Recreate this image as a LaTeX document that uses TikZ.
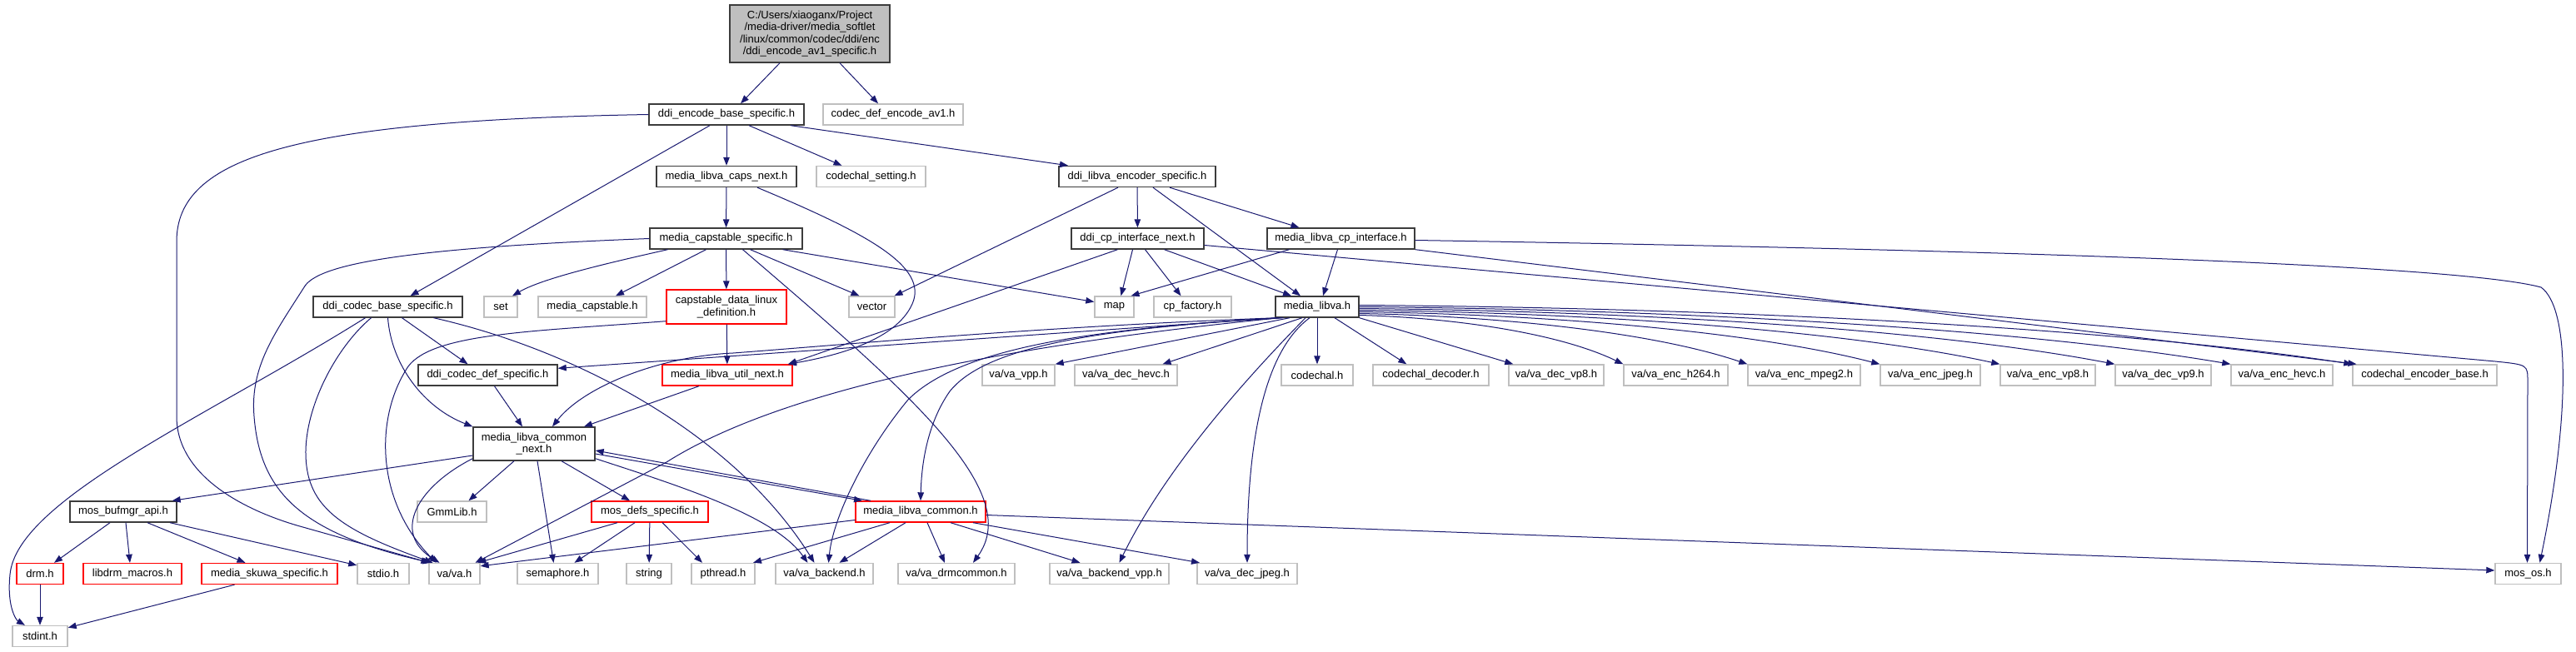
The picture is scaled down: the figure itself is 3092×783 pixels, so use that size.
\documentclass[tikz,border=0pt]{standalone}
\usepackage{fontspec}
\setmainfont{Liberation Sans}
\usetikzlibrary{arrows.meta}
\definecolor{edgeblue}{RGB}{25,25,112}
\definecolor{greyb}{RGB}{191,191,191}
\definecolor{docline}{RGB}{60,60,60}
\tikzset{
  nd/.style={rectangle, draw, line width=1.4pt, inner sep=0pt, minimum height=25pt,
    font=\fontsize{13}{14.5}\selectfont, align=center},
  doc/.style={nd, draw=docline},
  ext/.style={nd, draw=greyb},
  redn/.style={nd, draw=red},
  rootn/.style={nd, draw=docline, fill=greyb},
  e/.style={draw=edgeblue, line width=1pt, -{Triangle[length=10pt,width=7.5pt]}}
}
\begin{document}
\begin{tikzpicture}[x=1pt,y=-1pt]
\fill[white] (0,0) rectangle (3092,783);
\useasboundingbox (0,0) rectangle (3092,783);
% row 0
\node[rootn, minimum width=192pt, minimum height=69pt] (root) at (972,40.5) {C:/Users/xiaoganx/Project\\/media-driver/media\_softlet\\/linux/common/codec/ddi/enc\\/ddi\_encode\_av1\_specific.h};
% row 1
\node[doc, minimum width=186pt] (E) at (872,137.5) {ddi\_encode\_base\_specific.h};
\node[ext, minimum width=168pt] (cav1) at (1072,137.5) {codec\_def\_encode\_av1.h};
% row 2
\node[doc, minimum width=168pt] (CN) at (872,212) {media\_libva\_caps\_next.h};
\node[ext, minimum width=131pt] (csetting) at (1045.5,212) {codechal\_setting.h};
\node[doc, minimum width=188pt] (DLE) at (1365,212) {ddi\_libva\_encoder\_specific.h};
% row 3
\node[doc, minimum width=183pt] (MCS) at (871.5,286.5) {media\_capstable\_specific.h};
\node[doc, minimum width=159pt] (DCI) at (1365.5,286.5) {ddi\_cp\_interface\_next.h};
\node[doc, minimum width=177pt] (MLCI) at (1609.5,286.5) {media\_libva\_cp\_interface.h};
% row 4
\node[doc, minimum width=179pt] (DCB) at (465.5,368.5) {ddi\_codec\_base\_specific.h};
\node[ext, minimum width=40pt] (set) at (601,368.5) {set};
\node[ext, minimum width=130pt] (mcapstable) at (711,368.5) {media\_capstable.h};
\node[redn, minimum width=144pt, minimum height=41pt] (CDL) at (872,368.5) {capstable\_data\_linux\\\_definition.h};
\node[ext, minimum width=55pt] (vector) at (1046.5,368.5) {vector};
\node[ext, minimum width=47pt] (map) at (1337.5,368.5) {map};
\node[ext, minimum width=93pt] (cpfactory) at (1431.5,368.5) {cp\_factory.h};
\node[doc, minimum width=100pt] (ML) at (1581,368.5) {media\_libva.h};
% row 5
\node[doc, minimum width=167pt] (DCD) at (585.5,450.5) {ddi\_codec\_def\_specific.h};
\node[redn, minimum width=156pt] (UN) at (873,450.5) {media\_libva\_util\_next.h};
\node[ext, minimum width=87pt] (vavpp) at (1222.5,450.5) {va/va\_vpp.h};
\node[ext, minimum width=123pt] (decHevc) at (1351.5,450.5) {va/va\_dec\_hevc.h};
\node[ext, minimum width=86pt] (codechal) at (1581,450.5) {codechal.h};
\node[ext, minimum width=139pt] (cdecoder) at (1717.5,450.5) {codechal\_decoder.h};
\node[ext, minimum width=114pt] (decVp8) at (1868,450.5) {va/va\_dec\_vp8.h};
\node[ext, minimum width=125pt] (encH264) at (2011.5,450.5) {va/va\_enc\_h264.h};
\node[ext, minimum width=135pt] (encMpeg2) at (2165.5,450.5) {va/va\_enc\_mpeg2.h};
\node[ext, minimum width=120pt] (encJpeg) at (2317,450.5) {va/va\_enc\_jpeg.h};
\node[ext, minimum width=114pt] (encVp8) at (2458,450.5) {va/va\_enc\_vp8.h};
\node[ext, minimum width=115pt] (decVp9) at (2596.5,450.5) {va/va\_dec\_vp9.h};
\node[ext, minimum width=122pt] (encHevc) at (2739,450.5) {va/va\_enc\_hevc.h};
\node[ext, minimum width=173pt] (cencbase) at (2910.5,450.5) {codechal\_encoder\_base.h};
% row 6
\node[doc, minimum width=146pt, minimum height=40pt] (MLCN) at (641,533) {media\_libva\_common\\\_next.h};
% row 7
\node[doc, minimum width=128pt] (mosbuf) at (148,614.5) {mos\_bufmgr\_api.h};
\node[ext, minimum width=83pt] (gmm) at (542.5,614.5) {GmmLib.h};
\node[redn, minimum width=140pt] (MDS) at (780,614.5) {mos\_defs\_specific.h};
\node[redn, minimum width=156pt] (MLC) at (1105,614.5) {media\_libva\_common.h};
% row 8
\node[redn, minimum width=56pt] (drm) at (48,689) {drm.h};
\node[redn, minimum width=118pt] (libdrm) at (159,689) {libdrm\_macros.h};
\node[redn, minimum width=163pt] (skuwa) at (323.5,689) {media\_skuwa\_specific.h};
\node[ext, minimum width=62pt] (stdio) at (460,689) {stdio.h};
\node[ext, minimum width=61pt] (vah) at (545.5,689) {va/va.h};
\node[ext, minimum width=97pt] (semaphore) at (669.5,689) {semaphore.h};
\node[ext, minimum width=54pt] (string) at (779,689) {string};
\node[ext, minimum width=76pt] (pthread) at (868,689) {pthread.h};
\node[ext, minimum width=117pt] (vabackend) at (989.5,689) {va/va\_backend.h};
\node[ext, minimum width=140pt] (drmcommon) at (1148,689) {va/va\_drmcommon.h};
\node[ext, minimum width=143pt] (backendvpp) at (1331.5,689) {va/va\_backend\_vpp.h};
\node[ext, minimum width=120pt] (decjpeg) at (1497,689) {va/va\_dec\_jpeg.h};
\node[ext, minimum width=79pt] (mosos) at (3034.5,689) {mos\_os.h};
% row 9
\node[ext, minimum width=66pt] (stdint) at (48,764) {stdint.h};

% ---- edges ----
\draw[e] ([xshift=-36pt]root.south) -- ([xshift=17pt]E.north);
\draw[e] ([xshift=36pt]root.south) -- ([xshift=-18pt]cav1.north);
% E
\draw[e] ([xshift=-20pt]E.south) -- ([xshift=27pt]DCB.north);
\draw[e] (E) -- (CN);
\draw[e] ([xshift=27pt]E.south) -- ([xshift=-35pt]csetting.north);
\draw[e] ([xshift=77pt]E.south) -- ([xshift=-83pt]DLE.north);
\draw[e] (E.west) .. controls (350,145) and (212,190) .. (212,290) -- (212,500) .. controls (212,570) and (290,612) .. (360,632) -- ([xshift=-30pt]vah.north);
% CN
\draw[e] (CN) -- (MCS);
\draw[e] ([xshift=37pt]CN.south) .. controls (1040,280) and (1115,320) .. (1095,365) .. controls (1075,410) and (1000,428) .. ([xshift=73pt]UN.north);
% MCS
\draw[e] ([xshift=-70pt]MCS.south) .. controls (720,318) and (650,335) .. ([xshift=14pt]set.north);
\draw[e] ([xshift=-24pt]MCS.south) -- ([xshift=28pt]mcapstable.north);
\draw[e] (MCS) -- (CDL);
\draw[e] ([xshift=29pt]MCS.south) -- ([xshift=-15pt]vector.north);
\draw[e] ([xshift=68pt]MCS.south) -- ([yshift=6pt]map.west);
\draw[e] (MCS.west) .. controls (480,298) and (380,318) .. (365,345) .. controls (330,400) and (300,440) .. (305,500) .. controls (312,590) and (360,640) .. ([xshift=-28pt]vah.north);
\draw[e] ([xshift=20pt]MCS.south) .. controls (1090,470) and (1230,590) .. ([xshift=20pt]drmcommon.north);
% CDL
\draw[e] (CDL) -- (UN);
\draw[e] ([yshift=4pt]CDL.south west) .. controls (640,398) and (520,400) .. (490,440) .. controls (450,500) and (450,600) .. ([xshift=-22pt]vah.north);
% DCB
\draw[e] ([xshift=-27pt]DCB.south) .. controls (250,500) and (20,600) .. (12,690) .. controls (8,730) and (20,745) .. ([xshift=-18pt]stdint.north);
\draw[e] ([xshift=-20pt]DCB.south) .. controls (400,420) and (360,500) .. (368,560) .. controls (375,615) and (420,640) .. ([xshift=-26pt]vah.north);
\draw[e] (DCB.south) .. controls (470,440) and (510,490) .. (MLCN.north west);
\draw[e] ([xshift=17pt]DCB.south) -- ([xshift=-24pt]DCD.north);
\draw[e] ([xshift=55pt]DCB.south) .. controls (690,420) and (880,520) .. ([xshift=-12pt]vabackend.north);
% DCD, UN
\draw[e] ([xshift=8pt]DCD.south) -- ([xshift=-14pt]MLCN.north);
\draw[e] ([xshift=-34pt]UN.south) -- ([xshift=60pt]MLCN.north);
% MLCN
\draw[e] ([yshift=-14pt]MLCN.west) -- ([xshift=-6pt]mosbuf.north east);
\draw[e] ([yshift=3pt]MLCN.south west) .. controls (500,585) and (470,640) .. ([xshift=-18pt]vah.north);
\draw[e] ([xshift=-24pt]MLCN.south) -- ([xshift=20pt]gmm.north);
\draw[e] ([xshift=4pt]MLCN.south) -- ([xshift=-5pt]semaphore.north);
\draw[e] ([xshift=33pt]MLCN.south) -- ([xshift=-24pt]MDS.north);
\draw[e] ([yshift=-12pt]MLCN.east) -- ([xshift=-70pt]MLC.north);
\draw[e] ([xshift=-60pt]MLC.north) -- ([yshift=-8pt]MLCN.east);
\draw[e] ([yshift=3pt]MLCN.south east) .. controls (820,585) and (930,620) .. ([xshift=-20pt]vabackend.north);
% MDS
\draw[e] ([xshift=-39pt]MDS.south) -- ([xshift=28pt]vah.north);
\draw[e] ([xshift=-18pt]MDS.south) -- ([xshift=20pt]semaphore.north);
\draw[e] (MDS) -- (string);
\draw[e] ([xshift=15pt]MDS.south) -- ([xshift=-25pt]pthread.north);
% MLC
\draw[e] ([yshift=-10pt]MLC.west) -- ([yshift=-4pt]vah.north east);
\draw[e] ([xshift=-37pt]MLC.south) -- ([xshift=36pt]pthread.north);
\draw[e] ([xshift=-18pt]MLC.south) -- ([xshift=18pt]vabackend.north);
\draw[e] ([xshift=8pt]MLC.south) -- ([xshift=-14pt]drmcommon.north);
\draw[e] ([xshift=36pt]MLC.south) -- ([xshift=-35pt]backendvpp.north);
\draw[e] ([xshift=63pt]MLC.south) -- ([xshift=-57pt]decjpeg.north);
\draw[e] ([yshift=-4pt]MLC.east) -- ([yshift=4pt]mosos.west);
% mosbuf
\draw[e] ([xshift=-16pt]mosbuf.south) -- ([xshift=17pt]drm.north);
\draw[e] ([xshift=3pt]mosbuf.south) -- ([xshift=-3pt]libdrm.north);
\draw[e] ([xshift=29pt]mosbuf.south) -- ([xshift=-29pt]skuwa.north);
\draw[e] ([xshift=56pt]mosbuf.south) -- ([yshift=-3pt]stdio.north west);
\draw[e] (drm) -- (stdint);
\draw[e] ([xshift=-42pt]skuwa.south) -- ([yshift=-3pt]stdint.north east);
% DLE
\draw[e] ([xshift=-23pt]DLE.south) -- ([xshift=27pt]vector.north);
\draw[e] (DLE) -- (DCI);
\draw[e] ([xshift=19pt]DLE.south) -- ([xshift=-20pt]ML.north);
\draw[e] ([xshift=39pt]DLE.south) -- ([xshift=-50pt]MLCI.north);
% DCI
\draw[e] ([xshift=-24pt]DCI.south) -- ([xshift=73pt]UN.north);
\draw[e] ([xshift=-6pt]DCI.south) -- ([xshift=8pt]map.north);
\draw[e] ([xshift=9pt]DCI.south) -- ([xshift=-14pt]cpfactory.north);
\draw[e] ([xshift=32pt]DCI.south) -- ([xshift=-31pt]ML.north);
\draw[e] ([yshift=-8pt]DCI.east) -- (2995,434) .. controls (3034,438) .. (3034,458) -- ([xshift=-1pt]mosos.north);
% MLCI
\draw[e] ([xshift=-62pt]MLCI.south) -- ([xshift=20pt]map.north);
\draw[e] ([xshift=-4pt]MLCI.south) -- ([xshift=7pt]ML.north);
\draw[e] (MLCI.south east) -- ([xshift=-82pt]cencbase.north);
\draw[e] ([yshift=-2pt]MLCI.east) .. controls (2400,300) and (2950,318) .. (3050,345) .. controls (3085,370) and (3085,500) .. ([xshift=14pt]mosos.north);
% ML right fan
\draw[e] (ML) -- (codechal);
\draw[e] ([xshift=21pt]ML.south) -- ([xshift=41pt]cdecoder.north west);
\draw[e] (ML.south east) -- ([xshift=6pt]decVp8.north west);
\draw[e] ([yshift=-10pt]ML.east) .. controls (1742,381.5) and (1869.5,399.3) .. (encH264.north west);
\draw[e] ([yshift=-8pt]ML.east) .. controls (1794,379.5) and (1981,398) .. (encMpeg2.north west);
\draw[e] ([yshift=-6pt]ML.east) .. controls (1850,377.5) and (2100,397) .. (encJpeg.north west);
\draw[e] ([yshift=-4pt]ML.east) .. controls (1900,375.5) and (2208,395.4) .. (encVp8.north west);
\draw[e] ([yshift=-2pt]ML.east) .. controls (1949,373.5) and (2312,394) .. (decVp9.north west);
\draw[e] (ML.east) .. controls (1997,371.5) and (2416,393) .. (encHevc.north west);
\draw[e] ([yshift=2pt]ML.east) .. controls (2049,369.5) and (2526,391.5) .. (cencbase.north west);
% ML left / down
\draw[e] ([xshift=-33pt]ML.south) -- (vavpp.north east);
\draw[e] ([xshift=-18pt]ML.south) -- ([xshift=44pt]decHevc.north);
\draw[e] ([xshift=2pt]ML.south west) -- ([yshift=-5pt]DCD.north east);
\draw[e] ([xshift=4pt]ML.south west) .. controls (1250,392) and (1000,415) .. (880,424) .. controls (790,428) and (700,465) .. ([xshift=22pt]MLCN.north);
\draw[e] ([xshift=6pt]ML.south west) .. controls (1250,410) and (950,460) .. (800,555) -- ([xshift=25pt]vah.north);
\draw[e] ([xshift=8pt]ML.south west) .. controls (1300,395) and (1150,420) .. (1090,480) .. controls (1040,540) and (1000,620) .. ([xshift=5pt]vabackend.north);
\draw[e] ([xshift=10pt]ML.south west) .. controls (1300,395) and (1180,420) .. (1140,470) .. controls (1112,510) and (1106,560) .. (MLC.north);
\draw[e] ([xshift=-14pt]ML.south) .. controls (1500,450) and (1400,560) .. ([xshift=12pt]backendvpp.north);
\draw[e] ([xshift=-9pt]ML.south) .. controls (1520,420) and (1497,520) .. (decjpeg.north);
\end{tikzpicture}
\end{document}
